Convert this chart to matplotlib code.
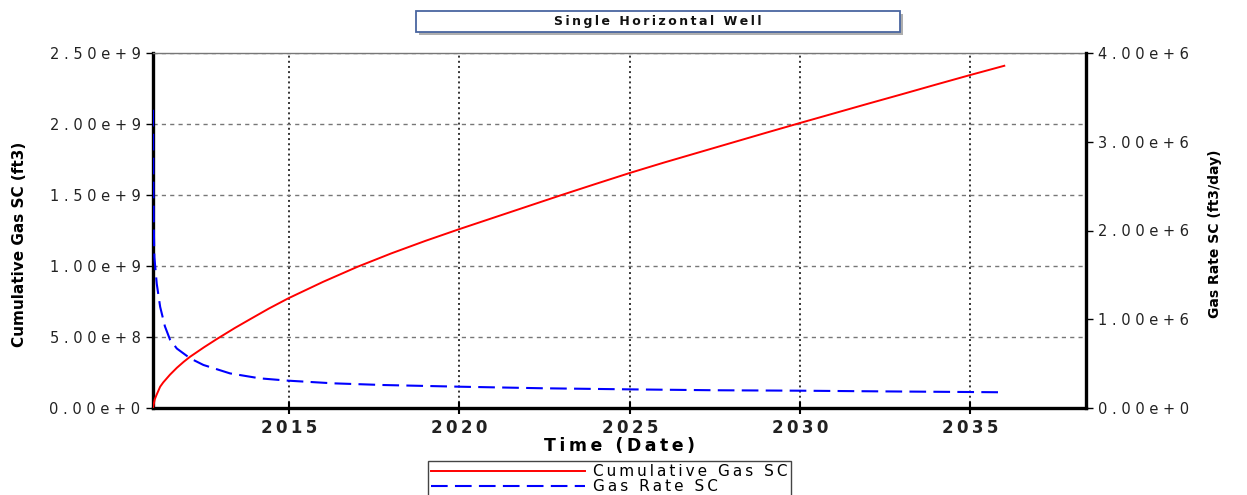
import numpy as np
import matplotlib.pyplot as plt
from matplotlib.lines import Line2D
from matplotlib.patches import Rectangle
from matplotlib.ticker import FixedLocator, FuncFormatter

# cumulative gas (ft3) by decimal year
years_cum = [2011.0, 2011.05, 2011.1, 2011.21, 2011.3, 2011.5, 2011.7, 2011.9, 2012.09,
             2012.5, 2012.87, 2013.4, 2013.85, 2014.4, 2014.97, 2016.0, 2017.0, 2018.0,
             2019.0, 2020.0, 2021.0, 2022.0, 2023.0, 2024.0, 2025.0, 2026.0, 2027.0,
             2028.0, 2029.0, 2030.0, 2031.0, 2032.0, 2033.0, 2034.0, 2035.0, 2036.0]
cum_gas = [0.0, 0.06e9, 0.09e9, 0.15e9, 0.18e9, 0.235e9, 0.283e9, 0.325e9, 0.361e9,
           0.428e9, 0.485e9, 0.563e9, 0.625e9, 0.70e9, 0.772e9, 0.889e9, 0.994e9, 1.089e9,
           1.177e9, 1.26e9, 1.34e9, 1.42e9, 1.50e9, 1.578e9, 1.655e9, 1.728e9, 1.798e9,
           1.868e9, 1.938e9, 2.007e9, 2.075e9, 2.143e9, 2.21e9, 2.278e9, 2.345e9, 2.41e9]

# gas rate (ft3/day) by decimal year
years_rate = [2011.0, 2011.01, 2011.02, 2011.04, 2011.11, 2011.21, 2011.35, 2011.5,
              2011.7, 2012.09, 2012.48, 2013.26, 2014.14, 2014.97, 2016.29, 2017.76,
              2020.0, 2022.5, 2025.0, 2027.5, 2030.0, 2032.5, 2035.0, 2036.0]
gas_rate = [3.36e6, 2.6e6, 2.1e6, 1.7e6, 1.4e6, 1.14e6, 0.92e6, 0.77e6,
            0.67e6, 0.56e6, 0.485e6, 0.39e6, 0.334e6, 0.308e6, 0.278e6, 0.259e6,
            0.24e6, 0.222e6, 0.21e6, 0.2e6, 0.195e6, 0.187e6, 0.18e6, 0.177e6]

year_ticks = [2015, 2020, 2025, 2030, 2035]
cum_ticks = [0, 0.5e9, 1.0e9, 1.5e9, 2.0e9, 2.5e9]
rate_ticks = [0, 1e6, 2e6, 3e6, 4e6]

THIN = "\u2009"
W, H = 1247, 495


def spread(s, sep=THIN):
    return sep.join(s)


def sci_label(v, _pos=None):
    if v == 0:
        s = "0.00e+0"
    else:
        exp = int(np.floor(np.log10(abs(v))))
        s = f"{v / 10 ** exp:.2f}e+{exp}"
    return " ".join(s)


plt.rcParams["font.family"] = ["DejaVu Sans"]

fig = plt.figure(figsize=(W / 100, H / 100), dpi=100)
ax = fig.add_axes([153 / W, 1 - 408 / H, (1086 - 153) / W, (408 - 53) / H])
ax2 = ax.twinx()

rate_dashes = (8, 3.5)
ax.plot(years_cum, cum_gas, color="#ff0000", lw=1.4, zorder=3)
ax2.plot(years_rate, gas_rate, color="#0000ff", lw=1.5, dashes=rate_dashes, zorder=3)

ax.set_xlim(2011.0, 2038.4)
ax.set_ylim(0, 2.5e9)
ax2.set_ylim(0, 4e6)

ax.xaxis.set_major_locator(FixedLocator(year_ticks))
ax.xaxis.set_major_formatter(FuncFormatter(lambda v, p: spread(str(int(round(v))))))
ax.yaxis.set_major_locator(FixedLocator(cum_ticks))
ax.yaxis.set_major_formatter(FuncFormatter(sci_label))
ax2.yaxis.set_major_locator(FixedLocator(rate_ticks))
ax2.yaxis.set_major_formatter(FuncFormatter(sci_label))

ax.grid(axis="x", ls=":", color="#333333", lw=1.4)
ax.grid(axis="y", ls=(0, (3, 3)), color="#777777", lw=1.0)
ax.set_axisbelow(True)

for side in ("left", "bottom"):
    ax.spines[side].set_linewidth(2.4)
    ax.spines[side].set_color("black")
ax.spines["top"].set_linewidth(1.0)
ax.spines["top"].set_color("#777777")
ax.spines["right"].set_visible(False)
for side in ("left", "top", "bottom"):
    ax2.spines[side].set_visible(False)
ax2.spines["right"].set_linewidth(2.4)
ax2.spines["right"].set_color("black")

for a in (ax, ax2):
    a.tick_params(axis="y", direction="out", length=5, width=1, pad=4, labelsize=10.5,
                  labelcolor="#222222")
ax.tick_params(axis="x", direction="inout", length=8, width=1.5, pad=4, labelsize=12,
               labelcolor="#222222")
for lbl in ax.get_xticklabels():
    lbl.set_fontweight("bold")

ax.set_ylabel("Cumulative Gas SC (ft3)", fontweight="bold", fontsize=11, labelpad=16)
ax.yaxis.label.set_y(0.462)
ax2.set_ylabel("Gas Rate SC (ft3/day)", fontweight="bold", fontsize=10, labelpad=13)
ax2.yaxis.label.set_y(0.49)
ax.set_xlabel(spread("Time (Date)"), fontweight="bold", fontsize=12.5, labelpad=0)

# title panel with drop shadow
bx0, bx1, by0, by1 = 416, 900, 11, 32
fig.add_artist(Rectangle(((bx0 + 3) / W, 1 - (by1 + 3) / H), (bx1 - bx0) / W,
                         (by1 - by0) / H, transform=fig.transFigure,
                         facecolor="#9a9a9a", edgecolor="none", alpha=0.8))
fig.add_artist(Rectangle((bx0 / W, 1 - by1 / H), (bx1 - bx0) / W, (by1 - by0) / H,
                         transform=fig.transFigure, facecolor="white",
                         edgecolor="#4a66a0", lw=1.3))
fig.text((bx0 + bx1) / 2 / W, 1 - (by0 + by1) / 2 / H, spread("Single Horizontal Well"),
         ha="center", va="center", fontweight="bold", fontsize=9, color="#111111")

handles = [Line2D([], [], color="#ff0000", lw=1.4),
           Line2D([], [], color="#0000ff", lw=1.5, dashes=rate_dashes)]
fig.legend(handles, [spread("Cumulative Gas SC"), spread("Gas Rate SC")], loc="upper left",
           bbox_to_anchor=(428 / W, 1 - 461 / H), frameon=True, fancybox=False,
           edgecolor="#444444", framealpha=1, fontsize=11, handlelength=10.1,
           labelspacing=0.0, borderpad=0.2, handletextpad=0.5, borderaxespad=0)

fig.savefig("out.png", dpi=100)
